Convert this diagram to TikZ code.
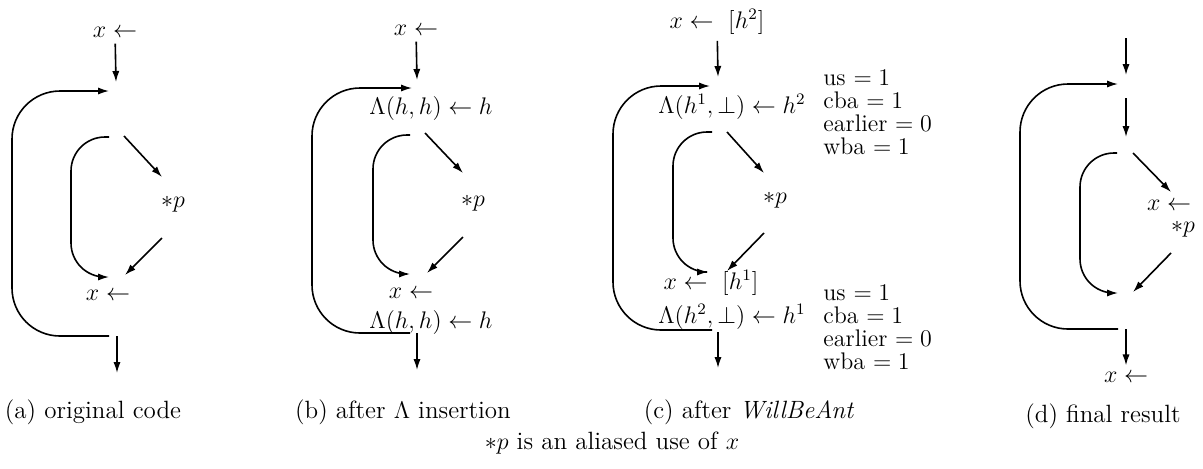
\documentclass[tikz,border=0pt]{standalone}
\usepackage{amsmath}
\usepackage{amssymb}
\usetikzlibrary{arrows.meta}

\begin{document}
\begin{tikzpicture}[x=0.5pt,y=-0.5pt,
    flow/.style={-{Latex[length=5.5pt,width=3.6pt]},line width=0.8pt},
    backedge/.style={flow,rounded corners=24pt},
    bodyedge/.style={flow,rounded corners=17pt},
    stmt/.style={inner sep=3pt,font=\fontsize{12}{14}\selectfont},
    attrs/.style={inner sep=0pt,align=left,anchor=west,font=\fontsize{12}{11.5}\selectfont},
    caption/.style={inner sep=0pt,font=\fontsize{12.5}{15}\selectfont}
]
\useasboundingbox (0,0) rectangle (1203,468);

\node[stmt] (a-x1) at (115,32) {$x \leftarrow$};
\coordinate (a-head)  at (116,82);
\coordinate (a-back)  at (109,91);
\coordinate (a-body)  at (109,137);
\coordinate (a-fork)  at (124,136);
\coordinate (a-pin)   at (162,177);
\node[stmt] (a-p) at (173,204) {$\ast p$};
\coordinate (a-pout)  at (162,238);
\coordinate (a-join)  at (125,275);
\coordinate (a-latch) at (109,277);
\node[stmt] (a-x2) at (108,295) {$x \leftarrow$};
\coordinate (a-exit)  at (109,336);
\coordinate (a-out0)  at (117,336);
\coordinate (a-out)   at (117,373);
\draw[flow] (a-x1) -- (a-head);
\draw[backedge] (a-exit) -- ++(-97,0) |- (a-back);
\draw[bodyedge] (a-body) -- ++(-38,0) |- (a-latch);
\draw[flow] (a-fork) -- (a-pin);
\draw[flow] (a-pout) -- (a-join);
\draw[flow] (a-out0) -- (a-out);
\node[caption] (a-cap) at (93,412) {(a) original code};

\node[stmt] (b-x1) at (416,30) {$x \leftarrow$};
\coordinate (b-head)  at (417,80);
\coordinate (b-back)  at (412,88);
\node[stmt] (b-lam1) at (431,108) {$\Lambda(h,h) \leftarrow h$};
\coordinate (b-body)  at (410,135);
\coordinate (b-fork)  at (425,133);
\coordinate (b-pin)   at (463,173);
\node[stmt] (b-p) at (473,203) {$\ast p$};
\coordinate (b-pout)  at (463,237);
\coordinate (b-join)  at (427,273);
\coordinate (b-latch) at (410,274);
\node[stmt] (b-x2) at (411,293) {$x \leftarrow$};
\node[stmt] (b-lam2) at (431,322) {$\Lambda(h,h) \leftarrow h$};
\coordinate (b-exit)  at (410,333);
\coordinate (b-out0)  at (417,333);
\coordinate (b-out)   at (417,370);
\draw[flow] (b-x1) -- (b-head);
\draw[backedge] (b-exit) -- ++(-98,0) |- (b-back);
\draw[bodyedge] (b-body) -- ++(-37,0) |- (b-latch);
\draw[flow] (b-fork) -- (b-pin);
\draw[flow] (b-pout) -- (b-join);
\draw[flow] (b-out0) -- (b-out);
\node[caption] (b-cap) at (403,412) {(b) after $\Lambda$ insertion};

\node[stmt] (c-x1) at (717,22) {$x \leftarrow\ [h^2]$};
\coordinate (c-head)  at (718,77);
\coordinate (c-back)  at (710,86);
\node[stmt] (c-lam1) at (732,107) {$\Lambda(h^1,\bot) \leftarrow h^2$};
\node[attrs] (c-att1) at (823,112) {us $=1$\\cba $=1$\\earlier $=0$\\wba $=1$};
\coordinate (c-body)  at (712,132);
\coordinate (c-fork)  at (727,132);
\coordinate (c-pin)   at (764,173);
\node[stmt] (c-p) at (775,200) {$\ast p$};
\coordinate (c-pout)  at (764,233);
\coordinate (c-join)  at (727,271);
\coordinate (c-latch) at (708,272);
\node[stmt] (c-x2) at (711,283) {$x \leftarrow\ [h^1]$};
\node[stmt] (c-lam2) at (732,317) {$\Lambda(h^2,\bot) \leftarrow h^1$};
\node[attrs] (c-att2) at (823,327) {us $=1$\\cba $=1$\\earlier $=0$\\wba $=1$};
\coordinate (c-exit)  at (712,330);
\coordinate (c-out0)  at (718,332);
\coordinate (c-out)   at (718,368);
\draw[flow] (c-x1) -- (c-head);
\draw[backedge] (c-exit) -- ++(-99,0) |- (c-back);
\draw[bodyedge] (c-body) -- ++(-39,0) |- (c-latch);
\draw[flow] (c-fork) -- (c-pin);
\draw[flow] (c-pout) -- (c-join);
\draw[flow] (c-out0) -- (c-out);
\node[caption] (c-cap) at (749,412) {(c) after \textit{WillBeAnt}};

\coordinate (d-in)    at (1126,38);
\coordinate (d-head)  at (1126,75);
\coordinate (d-back)  at (1118,84);
\coordinate (d-mid0)  at (1126,98);
\coordinate (d-mid)   at (1126,137);
\coordinate (d-body)  at (1117,153);
\coordinate (d-fork)  at (1133,153);
\coordinate (d-pin)   at (1171,192);
\node[stmt] (d-x1) at (1169,205) {$x \leftarrow$};
\node[stmt] (d-p) at (1183,229) {$\ast p$};
\coordinate (d-pout)  at (1171,253);
\coordinate (d-join)  at (1133,292);
\coordinate (d-latch) at (1118,293);
\coordinate (d-exit)  at (1118,329);
\coordinate (d-out0)  at (1126,329);
\node[stmt] (d-x2) at (1126,377) {$x \leftarrow$};
\draw[flow] (d-in) -- (d-head);
\draw[backedge] (d-exit) -- ++(-98,0) |- (d-back);
\draw[flow] (d-mid0) -- (d-mid);
\draw[bodyedge] (d-body) -- ++(-37,0) |- (d-latch);
\draw[flow] (d-fork) -- (d-pin);
\draw[flow] (d-pout) -- (d-join);
\draw[flow] (d-out0) -- (d-x2);
\node[caption] (d-cap) at (1103,416) {(d) final result};

\node[caption] (note) at (612,443) {$\ast p$ is an aliased use of $x$};
\end{tikzpicture}
\end{document}
